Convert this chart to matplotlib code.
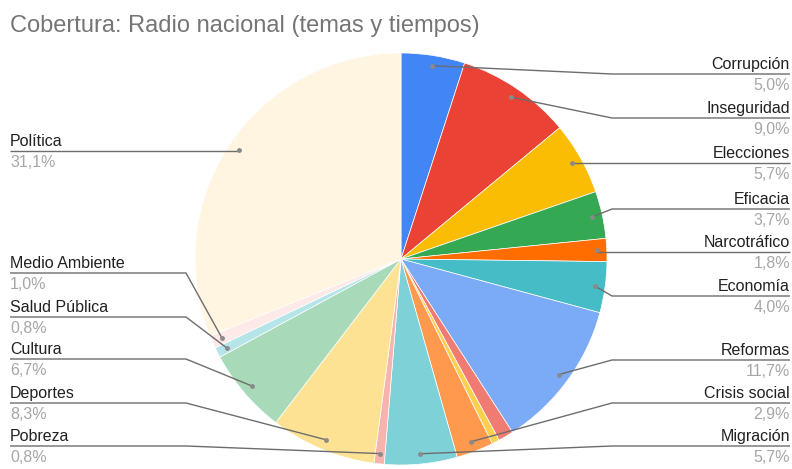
import numpy as np
import matplotlib
matplotlib.use("Agg")
import matplotlib.pyplot as plt

plt.rcParams["font.family"] = ["Liberation Sans", "DejaVu Sans"]

# Coverage share per topic, clockwise from 12 o'clock (percent)
topics = ["Corrupción", "Inseguridad", "Elecciones", "Eficacia", "Narcotráfico",
          "Economía", "Reformas", "", "", "Crisis social", "Migración", "Pobreza",
          "Deportes", "Cultura", "Salud Pública", "Medio Ambiente", "Política"]
shares = [5.0, 9.0, 5.7, 3.7, 1.8, 4.0, 11.7, 1.2, 0.6, 2.9, 5.7, 0.8,
          8.3, 6.7, 0.8, 1.0, 31.1]
colors = ["#4285F4", "#EA4335", "#FBBC04", "#34A853", "#FF6D01", "#46BDC6",
          "#7BAAF7", "#F07B72", "#FCD04F", "#FF994D", "#7ED1D7", "#F7B4AE",
          "#FDE293", "#A8DAB9", "#B5E5E8", "#FDE9E8", "#FFF5E1"]

title = "Cobertura: Radio nacional (temas y tiempos)"

W, H = 792, 469
# label rows: (side, y of the leader line in pixels from top)
label_rows = {
    "Corrupción": ("R", 74), "Inseguridad": ("R", 118), "Elecciones": ("R", 163),
    "Eficacia": ("R", 209), "Narcotráfico": ("R", 252), "Economía": ("R", 296),
    "Reformas": ("R", 360), "Crisis social": ("R", 403), "Migración": ("R", 446),
    "Política": ("L", 151), "Medio Ambiente": ("L", 273), "Salud Pública": ("L", 317),
    "Cultura": ("L", 359), "Deportes": ("L", 403), "Pobreza": ("L", 446),
}


def Y(py):
    return H - py


fig = plt.figure(figsize=(W / 100, H / 100), dpi=100)
ax = fig.add_axes([0, 0, 1, 1])

cx, cy, R = 401, Y(259), 206
wedges, _ = ax.pie(shares, colors=colors, startangle=90, counterclock=False,
                   center=(cx, cy), radius=R,
                   wedgeprops=dict(edgecolor="white", linewidth=0.5))
ax.set_xlim(0, W)
ax.set_ylim(0, H)
ax.set_aspect("equal")
ax.axis("off")

line_c = "#6d6d6d"
name_c = "#212121"
pct_c = "#a6a6a6"
fs = 11.5

for w, name, val in zip(wedges, topics, shares):
    if not name:
        continue
    side, ly = label_rows[name]
    mid = np.deg2rad((w.theta1 + w.theta2) / 2)
    dx = cx + 0.95 * R * np.cos(mid)
    dy = cy + 0.95 * R * np.sin(mid)
    pct = f"{val:.1f}".replace(".", ",") + "%"
    if side == "R":
        bend_x = 612 if abs(Y(ly) - dy) > 3 else dx
        ax.plot([dx, bend_x, 790], [dy, Y(ly), Y(ly)], color=line_c, lw=1.0,
                solid_capstyle="butt")
        ax.text(790, Y(ly - 5), name, ha="right", va="baseline", fontsize=fs,
                color=name_c)
        ax.text(790, Y(ly + 16), pct, ha="right", va="baseline", fontsize=fs,
                color=pct_c)
    else:
        bend_x = 186 if abs(Y(ly) - dy) > 3 else dx
        ax.plot([10, bend_x, dx], [Y(ly), Y(ly), dy], color=line_c, lw=1.0,
                solid_capstyle="butt")
        ax.text(10, Y(ly - 5), name, ha="left", va="baseline", fontsize=fs,
                color=name_c)
        ax.text(10, Y(ly + 16), pct, ha="left", va="baseline", fontsize=fs,
                color=pct_c)
    ax.plot([dx], [dy], "o", ms=3.5, color="#8a8a8a", mec="none")

ax.text(10, Y(32), title, ha="left", va="baseline", fontsize=17, color="#757575")

fig.savefig("out.png", dpi=100)
